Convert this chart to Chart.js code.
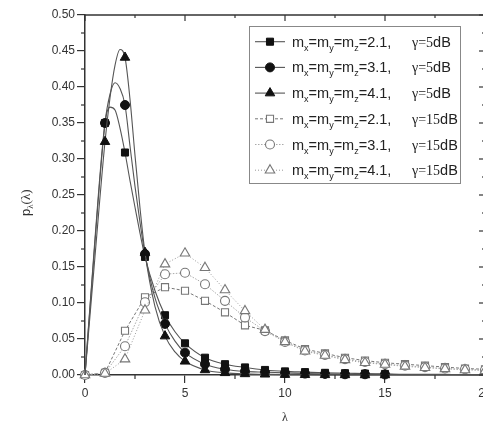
<!DOCTYPE html>
<html>
<head>
<meta charset="utf-8">
<script src="https://cdn.jsdelivr.net/npm/chart.js@4.4.1/dist/chart.umd.min.js"></script>
<style>
  html, body { margin: 0; padding: 0; background: #fff; overflow: hidden; }
  #wrap { position: relative; width: 500px; height: 427px; }
</style>
</head>
<body>
<div id="wrap"><canvas id="chartPdf"></canvas></div>
<script>
// lambda grid for the gamma = 5 dB curves (finer near the peak)
const LAMBDA_FINE = [0, 0.5, 1, 1.25, 1.5, 1.75, 2, 2.25, 2.5, 2.75, 3, 3.5, 4, 4.5, 5, 6, 7, 8, 9, 10, 11, 12, 13, 14, 15, 16, 17, 18, 19, 20];
const P5_M21 = [0, 0.19, 0.350, 0.372, 0.368, 0.343, 0.309, 0.270, 0.233, 0.197, 0.164, 0.117, 0.083, 0.060, 0.044, 0.024, 0.015, 0.0105, 0.007, 0.005, 0.004, 0.003, 0.0025, 0.002, 0.0015, 0.001, 0.001, 0.0008, 0.0006, 0.0005];
const P5_M31 = [0, 0.185, 0.350, 0.390, 0.406, 0.398, 0.375, 0.318, 0.262, 0.212, 0.168, 0.107, 0.071, 0.047, 0.031, 0.015, 0.008, 0.005, 0.004, 0.003, 0.002, 0.0015, 0.001, 0.001, 0.0008, 0.0005, 0.0004, 0.0003, 0.0002, 0.0002];
const P5_M41 = [0, 0.165, 0.324, 0.385, 0.430, 0.452, 0.441, 0.383, 0.305, 0.232, 0.170, 0.095, 0.054, 0.032, 0.019, 0.007, 0.003, 0.0015, 0.001, 0.0005, 0.0003, 0.0002, 0.0001, 0, 0, 0, 0, 0, 0, 0];

// gamma = 15 dB, integer lambda only
const LAMBDA_INT = [0, 1, 2, 3, 4, 5, 6, 7, 8, 9, 10, 11, 12, 13, 14, 15, 16, 17, 18, 19, 20];
const P15_M21 = [0, 0.003, 0.0615, 0.108, 0.122, 0.117, 0.103, 0.087, 0.069, 0.062, 0.048, 0.036, 0.030, 0.024, 0.020, 0.017, 0.015, 0.013, 0.011, 0.009, 0.008];
const P15_M31 = [0, 0.003, 0.040, 0.101, 0.140, 0.142, 0.126, 0.103, 0.080, 0.061, 0.046, 0.034, 0.028, 0.022, 0.018, 0.015, 0.013, 0.011, 0.009, 0.008, 0.007];
const P15_M41 = [0, 0.002, 0.022, 0.090, 0.154, 0.169, 0.149, 0.118, 0.089, 0.063, 0.046, 0.033, 0.027, 0.021, 0.017, 0.0145, 0.012, 0.010, 0.0085, 0.007, 0.006];

const M_VALUES = ["2.1", "3.1", "4.1", "2.1", "3.1", "4.1"];
const GAMMA_VALUES = ["5", "5", "5", "15", "15", "15"];

const AXIS = "#333";
const SANS = "'Liberation Sans', Arial, sans-serif";
const SERIF = "'Liberation Serif', 'Times New Roman', serif";

const toXY = (xs, ys) => xs.map((x, i) => ({ x, y: ys[i] }));

// filled markers only at integer lambda 1..15
const solidRadius = (r) => (c) => {
  const x = c.raw && c.raw.x;
  return Number.isInteger(x) && x >= 1 && x <= 15 ? r : 0;
};

// order: higher numbers are painted first, so the 5 dB curves end up on top
function solidSet(label, ys, style, r, order) {
  return {
    label,
    order,
    data: toXY(LAMBDA_FINE, ys),
    showLine: true,
    borderColor: "#555",
    borderWidth: 1.1,
    cubicInterpolationMode: "monotone",
    tension: 0.4,
    pointStyle: style,
    pointRadius: solidRadius(r),
    legendRadius: r,
    pointBackgroundColor: "#111",
    pointBorderColor: "#111",
    pointBorderWidth: 1,
    clip: 6,
  };
}

function openSet(label, ys, style, r, color, dash, order) {
  return {
    label,
    order,
    data: toXY(LAMBDA_INT, ys),
    showLine: true,
    borderColor: color,
    borderWidth: 1,
    borderDash: dash,
    tension: 0,
    pointStyle: style,
    pointRadius: r,
    legendRadius: r,
    pointBackgroundColor: "#fff",
    pointBorderColor: "#777",
    pointBorderWidth: 1.1,
    clip: 6,
  };
}

const datasets = [
  solidSet("m=2.1, 5dB", P5_M21, "rect", 5, 3),
  solidSet("m=3.1, 5dB", P5_M31, "circle", 4.5, 2),
  solidSet("m=4.1, 5dB", P5_M41, "triangle", 5.5, 1),
  openSet("m=2.1, 15dB", P15_M21, "rect", 5, "#777", [3, 2], 6),
  openSet("m=3.1, 15dB", P15_M31, "circle", 4.5, "#aaa", [1.5, 1.5], 5),
  openSet("m=4.1, 15dB", P15_M41, "triangle", 5.5, "#999", [1, 2], 4),
];

function line(ctx, x1, y1, x2, y2) {
  ctx.beginPath();
  ctx.moveTo(x1, y1);
  ctx.lineTo(x2, y2);
  ctx.stroke();
}

// draws text pieces left to right; sub pieces are smaller and dropped
function drawRuns(ctx, x, y, runs) {
  for (const r of runs) {
    ctx.font = r.font;
    ctx.fillText(r.t, x, y + (r.dy || 0));
    x += ctx.measureText(r.t).width;
  }
  return x;
}

const framePlugin = {
  id: "frame",
  afterDraw(chart) {
    const { ctx, chartArea: a, scales } = chart;
    const x = scales.x, y = scales.y;
    ctx.save();
    ctx.strokeStyle = AXIS;
    ctx.lineWidth = 1.5;
    line(ctx, a.left, a.top, a.right, a.top);
    line(ctx, a.right, a.top, a.right, a.bottom);
    ctx.lineWidth = 1.2;
    for (let i = 0; i <= 8; i++) {
      const px = x.getPixelForValue(i * 2.5);
      const major = i % 2 === 0;
      if (!major) line(ctx, px, a.bottom, px, a.bottom + 4);
      line(ctx, px, a.top, px, a.top + (major ? 6 : 3));
    }
    for (let i = 0; i <= 20; i++) {
      const py = y.getPixelForValue(i * 0.025);
      const major = i % 2 === 0;
      if (!major) line(ctx, a.left - 4, py, a.left, py);
      line(ctx, a.right, py, a.right - (major ? 6 : 3), py);
    }

    // axis titles
    ctx.fillStyle = "#333";
    ctx.textBaseline = "alphabetic";
    ctx.font = "12px " + SERIF;
    ctx.textAlign = "center";
    ctx.fillText("λ", (a.left + a.right) / 2, 421);
    ctx.textAlign = "left";
    ctx.save();
    ctx.translate(30, 216);
    ctx.rotate(-Math.PI / 2);
    drawRuns(ctx, 0, 0, [
      { t: "p", font: "13px " + SANS },
      { t: "λ", font: "9px " + SERIF, dy: 3 },
      { t: "(λ)", font: "13px " + SERIF },
    ]);
    ctx.restore();

    // legend box
    const box = { l: 249.5, t: 26.5, r: 460.5, b: 183.5 };
    ctx.strokeStyle = "#888";
    ctx.lineWidth = 1;
    ctx.strokeRect(box.l, box.t, box.r - box.l, box.b - box.t);
    chart.data.datasets.forEach((ds, i) => {
      const cy = 41.7 + i * 25.7;
      ctx.save();
      ctx.strokeStyle = ds.borderColor;
      ctx.lineWidth = ds.borderWidth;
      ctx.setLineDash(ds.borderDash || []);
      line(ctx, 255, cy, 285, cy);
      ctx.restore();
      ctx.save();
      ctx.fillStyle = ds.pointBackgroundColor;
      ctx.strokeStyle = ds.pointBorderColor;
      ctx.lineWidth = ds.pointBorderWidth;
      Chart.helpers.drawPoint(ctx, { pointStyle: ds.pointStyle, radius: ds.legendRadius, rotation: 0, borderWidth: ds.pointBorderWidth }, 270, cy);
      ctx.restore();

      const base = cy + 5;
      const big = "14.5px " + SANS, sub = "9px " + SANS;
      ctx.fillStyle = "#222";
      drawRuns(ctx, 292, base, [
        { t: "m", font: big }, { t: "x", font: sub, dy: 4 },
        { t: "=m", font: big }, { t: "y", font: sub, dy: 4 },
        { t: "=m", font: big }, { t: "z", font: sub, dy: 4 },
        { t: "=" + M_VALUES[i] + ",", font: big },
      ]);
      drawRuns(ctx, 412, base, [
        { t: "γ=" + GAMMA_VALUES[i], font: "14px " + SERIF },
        { t: "dB", font: big },
      ]);
    });
    ctx.restore();
  },
};

new Chart(document.getElementById("chartPdf").getContext("2d"), {
  type: "scatter",
  data: { datasets },
  options: {
    animation: false,
    responsive: true,
    maintainAspectRatio: false,
    layout: { padding: { top: 15, right: 15, left: 0, bottom: 0 } },
    plugins: { legend: { display: false }, tooltip: { enabled: false } },
    scales: {
      x: {
        type: "linear",
        min: 0,
        max: 20,
        afterFit: (s) => { s.height = 52; },
        ticks: { stepSize: 5, color: "#333", font: { family: SANS, size: 12 }, padding: 3, maxRotation: 0 },
        grid: { drawOnChartArea: false, tickLength: 8, color: AXIS, lineWidth: 1.2 },
        border: { color: AXIS, width: 1.5 },
      },
      y: {
        type: "linear",
        min: 0,
        max: 0.5,
        afterFit: (s) => { s.width = 85; },
        ticks: { stepSize: 0.05, color: "#333", font: { family: SANS, size: 12 }, padding: 2, callback: (v) => v.toFixed(2) },
        grid: { drawOnChartArea: false, tickLength: 8, color: AXIS, lineWidth: 1.2 },
        border: { color: AXIS, width: 1.5 },
      },
    },
  },
  plugins: [framePlugin],
});
</script>
</body>
</html>
